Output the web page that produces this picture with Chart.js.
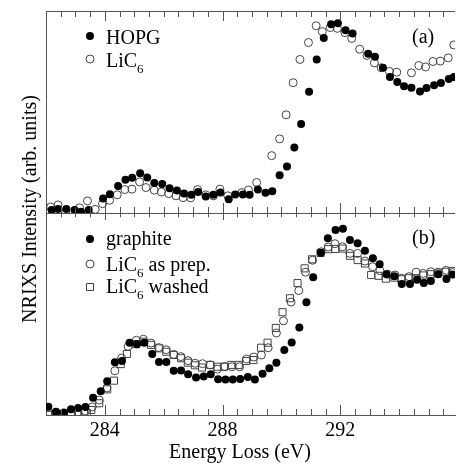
<!DOCTYPE html>
<html>
<head>
<meta charset="utf-8">
<script src="https://cdn.jsdelivr.net/npm/chart.js@4.4.0/dist/chart.umd.min.js"></script>
<style>
  html, body { margin: 0; padding: 0; background: #fff; overflow: hidden; }
</style>
</head>
<body>
<canvas id="myChart" width="461" height="468"></canvas>
<script>
// x axis tick labels (eV)
var xTicks = [284, 288, 292];

// panel (a): HOPG (filled) and LiC6 (open)
var hopgE = [282.19,282.41,282.69,282.97,283.19,283.45,283.94,284.17,284.45,284.70,284.93,285.20,285.44,285.68,285.95,286.20,286.45,286.69,286.94,287.17,287.43,287.69,287.93,288.21,288.43,288.69,288.92,289.20,289.46,289.69,289.94,290.19,290.44,290.67,290.94,291.20,291.44,291.69,291.92,292.18,292.42,292.95,293.18,293.45,293.69,293.94,294.17,294.42,294.71,294.93,295.19,295.42,295.69,295.86];
var hopgI = [1.5,2.0,2.0,1.5,0.6,1.5,7.2,9.3,13.4,16.4,17.4,19.7,17.6,14.9,14.4,12.3,11.1,9.6,9.0,10.4,8.2,9.0,10.1,6.8,9.1,9.1,9.0,11.6,10.0,10.8,18.7,23.0,32.4,44.1,60.0,76.0,86.6,93.4,93.9,90.5,88.9,78.8,77.3,71.9,67.3,64.8,62.7,62.0,60.2,61.9,63.2,64.3,66.3,67.3];

var licE = [282.16,282.41,282.67,283.14,283.41,283.67,283.92,284.16,284.42,284.68,284.92,285.18,285.40,285.68,285.92,286.17,286.42,286.66,286.92,287.15,287.43,287.69,287.91,288.18,288.66,288.88,289.16,289.67,289.94,290.16,290.40,290.63,290.92,291.18,291.39,291.66,291.90,292.16,292.39,292.66,292.91,293.16,293.39,293.67,293.92,294.42,294.67,294.90,295.15,295.40,295.67,295.86];
var licI = [3.0,4.0,0.6,2.6,6.0,1.8,4.6,6.3,9.0,11.6,11.8,15.4,12.6,11.3,10.4,9.6,8.5,7.6,7.5,11.6,9.0,8.5,11.8,8.5,10.1,11.4,15.1,28.4,36.7,48.6,64.5,76.0,84.4,92.7,89.8,91.8,91.4,89.3,86.4,81.1,78.0,74.3,71.9,70.1,69.7,69.4,73.0,72.3,75.0,75.2,76.8,83.2];

// panel (b): graphite, LiC6 as prep., LiC6 washed
var grE = [282.08,282.34,282.61,282.85,283.09,283.34,283.60,283.86,284.08,284.34,284.58,284.84,285.09,285.34,285.61,285.84,286.09,286.34,286.59,286.83,287.10,287.36,287.60,287.85,288.10,288.35,288.60,288.86,289.10,289.36,289.59,289.83,290.10,290.35,290.61,290.85,291.08,291.34,291.58,291.84,292.09,292.33,292.59,292.84,293.11,293.34,293.57,293.84,294.09,294.37,294.61,294.84,295.08,295.33,295.61,295.82];
var grI = [4.1,1.6,1.2,2.8,3.5,4.0,8.6,11.7,16.7,26.1,26.7,35.8,35.0,35.8,30.2,26.2,26.2,21.9,22.0,20.2,18.6,19.0,20.2,17.7,17.6,17.6,17.8,18.8,17.6,20.4,23.1,25.9,32.2,35.9,43.3,55.8,68.2,80.3,87.5,91.6,92.2,86.6,85.0,81.3,77.6,74.6,69.7,68.7,64.8,64.9,67.0,65.4,66.3,69.7,67.3,69.6];

var prepE = [282.08,282.33,282.60,282.85,283.09,283.34,283.57,283.81,284.07,284.34,284.57,284.79,285.07,285.31,285.57,285.83,286.08,286.34,286.58,286.83,287.07,287.32,287.58,287.82,288.07,288.32,288.58,288.82,289.06,289.32,289.55,289.83,290.07,290.33,290.59,290.82,291.06,291.35,291.59,291.82,292.07,292.33,292.59,292.84,293.10,293.35,293.61,293.86,294.08,294.34,294.58,294.82,295.08,295.33,295.60,295.82];
var prepI = [1.0,1.0,0.5,0.8,0.8,2.0,4.0,7.4,13.4,21.9,28.2,34.0,37.0,37.5,35.6,33.4,32.3,30.0,28.9,26.9,25.6,25.4,24.8,22.7,24.0,23.9,23.9,27.7,28.7,29.7,33.3,40.6,46.6,55.9,61.6,70.7,76.6,80.8,83.2,84.8,83.3,80.0,80.0,76.2,73.4,71.5,69.7,69.3,67.7,68.5,70.7,70.1,70.9,70.7,71.6,70.5];

var washE = [282.08,282.33,282.60,282.85,283.09,283.30,283.54,283.81,284.08,284.31,284.54,284.75,285.06,285.31,285.57,285.85,286.09,286.34,286.59,286.82,287.06,287.30,287.58,287.83,288.06,288.30,288.55,288.80,289.05,289.31,289.53,289.81,290.04,290.29,290.55,290.79,291.04,291.33,291.59,291.83,292.08,292.33,292.59,292.84,293.05,293.30,293.55,293.84,294.08,294.32,294.57,294.82,295.07,295.31,295.57,295.82];
var washI = [0.0,0.7,0.5,0.7,1.0,1.5,2.5,5.8,12.7,17.0,25.2,30.2,35.1,36.3,34.7,33.0,31.3,29.7,28.1,25.9,24.6,23.5,24.8,23.9,23.9,24.8,24.8,26.7,27.2,33.3,35.8,43.1,50.9,57.8,65.3,72.6,77.1,80.2,82.1,82.2,82.4,78.8,76.7,75.0,69.3,68.9,67.5,68.0,67.2,67.7,67.7,69.1,69.7,70.1,70.9,71.3];

var serif = "'Liberation Serif', 'Times New Roman', serif";
var axisColor = '#555';

function pts(xs, ys) {
    return xs.map(function (x, i) { return { x: x, y: ys[i] }; });
}

function filled(label, xs, ys, yAxis) {
    return { label: label, data: pts(xs, ys), yAxisID: yAxis, pointStyle: 'circle', pointRadius: 4,
             backgroundColor: '#000', borderColor: '#000', borderWidth: 0 };
}
function hollow(label, xs, ys, yAxis, style, r) {
    return { label: label, data: pts(xs, ys), yAxisID: yAxis, pointStyle: style, pointRadius: r,
             backgroundColor: 'rgba(0,0,0,0)', borderColor: '#444', borderWidth: 1 };
}

// writes "LiC" + subscript 6 + rest
function subText(ctx, x, y, main, sub, rest) {
    ctx.font = '20px ' + serif;
    ctx.fillText(main, x, y);
    x += ctx.measureText(main).width;
    ctx.font = '13px ' + serif;
    ctx.fillText(sub, x, y + 6);
    x += ctx.measureText(sub).width;
    if (rest) {
        ctx.font = '20px ' + serif;
        ctx.fillText(rest, x, y);
    }
}

function marker(ctx, kind, x, y) {
    ctx.beginPath();
    if (kind === 'dot') {
        ctx.arc(x, y, 4, 0, Math.PI * 2);
        ctx.fillStyle = '#000';
        ctx.fill();
    } else if (kind === 'ring') {
        ctx.arc(x, y, 4, 0, Math.PI * 2);
        ctx.strokeStyle = '#444';
        ctx.stroke();
    } else {
        ctx.rect(x - 3.5, y - 3.5, 7, 7);
        ctx.strokeStyle = '#444';
        ctx.stroke();
    }
}

var frame = {
    id: 'frame',
    afterDraw: function (chart) {
        var ctx = chart.ctx, a = chart.chartArea, sx = chart.scales.x;
        var mid = Math.round(chart.scales.ya.bottom);
        ctx.save();
        ctx.strokeStyle = axisColor;
        ctx.lineWidth = 1;
        ctx.beginPath();
        ctx.moveTo(a.left, a.top + 0.5); ctx.lineTo(a.right, a.top + 0.5);
        ctx.moveTo(a.left, mid + 0.5); ctx.lineTo(a.right, mid + 0.5);
        for (var v = 282.5; v < sx.max; v += 0.5) {
            var px = Math.round(sx.getPixelForValue(v)) + 0.5;
            var len = xTicks.indexOf(v) >= 0 ? 10 : 6;
            ctx.moveTo(px, a.top); ctx.lineTo(px, a.top + len);
            ctx.moveTo(px, mid - len); ctx.lineTo(px, mid + len * 0.7);
            ctx.moveTo(px, a.bottom - len); ctx.lineTo(px, a.bottom);
        }
        ctx.stroke();

        ctx.fillStyle = '#000';
        ctx.textBaseline = 'alphabetic';
        ctx.textAlign = 'left';

        // legend (a)
        marker(ctx, 'dot', 90, 36);
        ctx.font = '20px ' + serif;
        ctx.fillStyle = '#000';
        ctx.fillText('HOPG', 106, 44);
        marker(ctx, 'ring', 90, 59);
        ctx.fillStyle = '#000';
        subText(ctx, 106, 67, 'LiC', '6', '');

        // legend (b)
        marker(ctx, 'dot', 90, 239);
        ctx.font = '20px ' + serif;
        ctx.fillStyle = '#000';
        ctx.fillText('graphite', 106, 245);
        marker(ctx, 'ring', 90, 264);
        ctx.fillStyle = '#000';
        subText(ctx, 106, 271, 'LiC', '6', ' as prep.');
        marker(ctx, 'square', 90, 287);
        ctx.fillStyle = '#000';
        subText(ctx, 106, 293, 'LiC', '6', ' washed');

        // panel labels
        ctx.font = '20px ' + serif;
        ctx.fillText('(a)', 412, 43);
        ctx.fillText('(b)', 412, 244);

        // axis titles
        ctx.textAlign = 'center';
        ctx.fillText('Energy Loss (eV)', 240, 458);
        ctx.translate(36, 209);
        ctx.rotate(-Math.PI / 2);
        ctx.fillText('NRIXS Intensity (arb. units)', 0, 0);
        ctx.restore();
    }
};

var hiddenGrid = { display: false, drawTicks: false };

var ctx = document.getElementById('myChart').getContext('2d');
var myChart = new Chart(ctx, {
    type: 'scatter',
    data: {
        datasets: [
            filled('HOPG', hopgE, hopgI, 'ya'),
            hollow('LiC6', licE, licI, 'ya', 'circle', 4),
            filled('graphite', grE, grI, 'yb'),
            hollow('LiC6 as prep.', prepE, prepI, 'yb', 'circle', 4),
            hollow('LiC6 washed', washE, washI, 'yb', 'rect', 5)
        ]
    },
    options: {
        responsive: false,
        animation: false,
        devicePixelRatio: 1,
        layout: { padding: { left: 46, top: 11, right: 0, bottom: 21 } },
        plugins: {
            legend: { display: false },
            tooltip: { enabled: false }
        },
        scales: {
            x: {
                type: 'linear',
                min: 282,
                max: 295.9,
                afterBuildTicks: function (s) {
                    s.ticks = xTicks.map(function (v) { return { value: v }; });
                },
                ticks: { color: '#000', font: { family: serif, size: 20 }, padding: 4 },
                grid: hiddenGrid,
                border: { color: axisColor }
            },
            // bottom panel (b) is listed first so it is placed below panel (a)
            yb: {
                type: 'linear',
                position: 'left',
                stack: 'panels',
                stackWeight: 1,
                min: 0,
                max: 100,
                ticks: { display: false },
                grid: hiddenGrid,
                border: { color: axisColor }
            },
            ya: {
                type: 'linear',
                position: 'left',
                stack: 'panels',
                stackWeight: 1,
                min: 0,
                max: 100,
                ticks: { display: false },
                grid: hiddenGrid,
                border: { color: axisColor }
            }
        }
    },
    plugins: [frame]
});
</script>
</body>
</html>
